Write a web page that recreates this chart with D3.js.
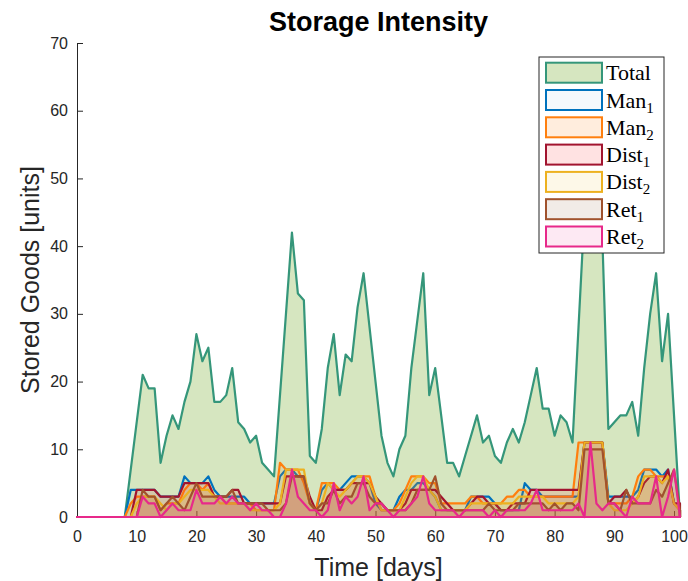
<!DOCTYPE html>
<html>
<head>
<meta charset="utf-8">
<script src="https://cdn.jsdelivr.net/npm/d3@7"></script>
<style>
  body { margin: 0; background: #fff; }
  svg { display: block; }
</style>
</head>
<body>
<div id="chart"></div>
<script>
// one value per day, day 0 .. 101
const days = d3.range(0, 102)

const total = [0,0,0,0,0,0,0,0,
  0,7,14,21,19,19,8,12,15,13,
  17,20,27,23,25,17,17,18,22,14,
  13,11,12,8,7,6,18,30,42,33,
  32,9,8,13,22,27,18,24,23,31,
  36,28,20,12,8,6,10,12,22,29,
  36,18,22,15,8,8,6,9,12,15,
  11,12,9,8,11,13,11,14,18,22,
  16,16,12,15,14,11,28,45,46,45,
  41,13,14,15,15,17,12,22,30,36,
  23,30,15,0]

const man1 = [0,0,0,0,0,0,0,0,
  0,4,4,4,4,4,3,3,3,3,
  6,5,5,5,6,4,3,3,3,3,
  3,2,2,2,2,2,6,7,7,6,
  6,2,1,4,5,4,4,5,6,6,
  6,5,2,1,1,1,3,4,4,5,
  5,4,3,1,1,1,1,1,3,3,
  3,3,2,1,1,1,1,5,4,4,
  3,3,3,3,3,3,3,11,11,11,
  11,3,3,3,3,3,4,7,7,7,
  6,7,2,1]

const man2 = [0,0,0,0,0,0,0,0,
  0,2,3,3,3,3,1,2,2,2,
  4,5,5,4,5,3,3,2,2,2,
  2,2,1,1,1,1,8,7,7,7,
  5,2,1,5,5,5,4,4,5,6,
  6,6,3,1,1,1,2,4,6,6,
  6,5,5,2,2,2,2,2,3,3,
  2,2,2,2,3,3,4,4,3,3,
  3,3,3,3,3,3,11,11,11,11,
  11,2,2,2,2,3,6,7,7,6,
  6,6,2,1]

const dist1 = [0,0,0,0,0,0,0,0,
  0,0,4,4,4,4,3,3,3,3,
  5,5,5,5,5,3,3,3,4,4,
  2,2,2,2,2,2,2,6,6,6,
  6,3,1,1,3,4,4,4,5,5,
  5,5,3,2,1,1,1,2,4,4,
  4,4,4,3,2,1,1,1,2,3,
  3,2,2,1,1,2,2,2,4,4,
  4,4,4,4,4,4,4,11,11,11,
  11,2,3,3,4,2,3,5,6,6,
  5,7,2,2]

const dist2 = [0,0,0,0,0,0,0,0,
  0,0,2,3,3,3,2,1,2,2,
  3,4,4,4,4,3,2,2,2,2,
  2,1,1,1,1,1,2,7,7,7,
  7,2,1,2,5,4,3,4,5,6,
  6,5,3,1,1,1,1,3,5,6,
  6,4,3,1,1,1,1,1,2,2,
  2,2,2,2,2,2,3,3,3,3,
  3,2,2,2,2,2,3,11,11,11,
  11,2,1,1,1,2,3,6,6,6,
  5,6,2,1]

const ret1 = [0,0,0,0,0,0,0,0,
  0,0,0,4,3,3,1,2,3,2,
  1,3,5,3,3,3,3,3,4,2,
  2,2,2,2,1,1,1,2,6,6,
  6,2,1,2,2,4,2,3,3,5,
  5,3,2,2,1,1,1,1,2,4,
  4,4,6,2,1,1,1,1,1,1,
  1,2,1,1,1,1,2,2,2,2,
  2,1,2,1,2,2,1,10,10,10,
  10,2,2,1,4,2,2,2,2,4,
  3,5,7,1]

const ret2 = [0,0,0,0,0,0,0,0,
  0,0,0,3,2,2,0,1,2,1,
  1,1,4,2,2,2,3,2,3,2,
  2,1,2,1,1,0,0,2,7,3,
  2,1,1,0,1,5,1,3,2,3,
  6,1,2,2,1,0,1,1,2,3,
  6,2,1,1,1,1,0,1,1,1,
  1,0,1,0,1,1,1,1,2,4,
  1,1,1,1,1,1,2,0,11,2,
  1,2,2,1,0,3,2,2,2,6,
  0,3,7,0]

const seriesNames = ['Total', 'Man', 'Man', 'Dist', 'Dist', 'Ret', 'Ret']
const seriesSubs  = ['', '1', '2', '1', '2', '1', '2']
const seriesData  = [total, man1, man2, dist1, dist2, ret1, ret2]
const lineColors  = ['#35967a', '#0072bd', '#ff7f0e', '#a2142f', '#edb120', '#a0522d', '#e7298a']
const faceColors  = ['#77ac30', '#0072bd', '#ff7f0e', '#ff2020', '#f0b820', '#8b5a3c', '#e7298a']
const faceAlpha   = [0.3, 0.04, 0.14, 0.13, 0.1, 0.12, 0.1]

const xTicks = d3.range(0, 101, 10)
const yTicks = d3.range(0, 71, 10)

const width = 688
const height = 581
const margin = { top: 43, right: 8, bottom: 64, left: 77 }

const x = d3.scaleLinear([0, 101], [margin.left, width - margin.right])
const y = d3.scaleLinear([0, 70], [height - margin.bottom, margin.top])

const svg = d3.select('#chart').append('svg')
  .attr('width', width)
  .attr('height', height)
  .style('font-family', 'Liberation Sans, Arial, sans-serif')

// axes (drawn under the data, like the original)
const axisColor = '#262626'

const gx = svg.append('g')
  .attr('transform', `translate(0,${y(0)})`)
  .call(d3.axisBottom(x).tickValues(xTicks).tickSizeInner(-6).tickSizeOuter(0).tickPadding(14))
gx.select('.domain').attr('stroke', axisColor)
gx.selectAll('.tick line').attr('stroke', axisColor)
gx.selectAll('.tick text').attr('fill', axisColor).style('font-size', '16px')

const gy = svg.append('g')
  .attr('transform', `translate(${x(0)},0)`)
  .call(d3.axisLeft(y).tickValues(yTicks).tickSizeInner(-6).tickSizeOuter(0).tickPadding(9))
gy.select('.domain').attr('stroke', axisColor)
gy.selectAll('.tick line').attr('stroke', axisColor)
gy.selectAll('.tick text').attr('fill', axisColor).style('font-size', '16px')

// areas, each with its edge, in plotting order
const area = d3.area()
  .x((d, i) => x(days[i]))
  .y0(y(0))
  .y1(d => y(d))

svg.append('g')
  .selectAll('path')
  .data(seriesData)
  .join('path')
    .attr('d', d => area(d) + 'Z')
    .attr('fill', (d, i) => faceColors[i])
    .attr('fill-opacity', (d, i) => faceAlpha[i])
    .attr('stroke', (d, i) => lineColors[i])
    .attr('stroke-width', 2.2)
    .attr('stroke-linejoin', 'round')

// title and labels
svg.append('text')
  .attr('x', (x(0) + x(101)) / 2)
  .attr('y', 31)
  .attr('text-anchor', 'middle')
  .style('font-size', '27px')
  .style('font-weight', 'bold')
  .attr('fill', '#000')
  .text('Storage Intensity')

svg.append('text')
  .attr('x', (x(0) + x(101)) / 2)
  .attr('y', 576)
  .attr('text-anchor', 'middle')
  .style('font-size', '25px')
  .attr('fill', axisColor)
  .text('Time [days]')

svg.append('text')
  .attr('transform', `translate(39,${(y(0) + y(70)) / 2}) rotate(-90)`)
  .attr('text-anchor', 'middle')
  .style('font-size', '25px')
  .attr('fill', axisColor)
  .text('Stored Goods [units]')

// legend
const legend = svg.append('g').attr('transform', 'translate(539,57)')
legend.append('rect')
  .attr('width', 125)
  .attr('height', 196)
  .attr('fill', '#fff')
  .attr('stroke', axisColor)
  .attr('stroke-width', 1)

const entry = legend.selectAll('g.entry')
  .data(seriesNames)
  .join('g')
    .attr('class', 'entry')
    .attr('transform', (d, i) => `translate(0,${15.7 + i * 27.3})`)

entry.append('rect')
  .attr('x', 7)
  .attr('y', -10)
  .attr('width', 56)
  .attr('height', 20)
  .attr('fill', (d, i) => faceColors[i])
  .attr('fill-opacity', (d, i) => faceAlpha[i])
  .attr('stroke', (d, i) => lineColors[i])
  .attr('stroke-width', 2)

const label = entry.append('text')
  .attr('x', 67)
  .attr('y', 7.5)
  .style('font-family', 'Liberation Serif, Times New Roman, serif')
  .style('font-size', '22px')
  .attr('fill', '#000')

label.append('tspan').text(d => d)
label.append('tspan')
  .attr('dy', 5)
  .style('font-size', '15px')
  .text((d, i) => seriesSubs[i])
</script>
</body>
</html>
